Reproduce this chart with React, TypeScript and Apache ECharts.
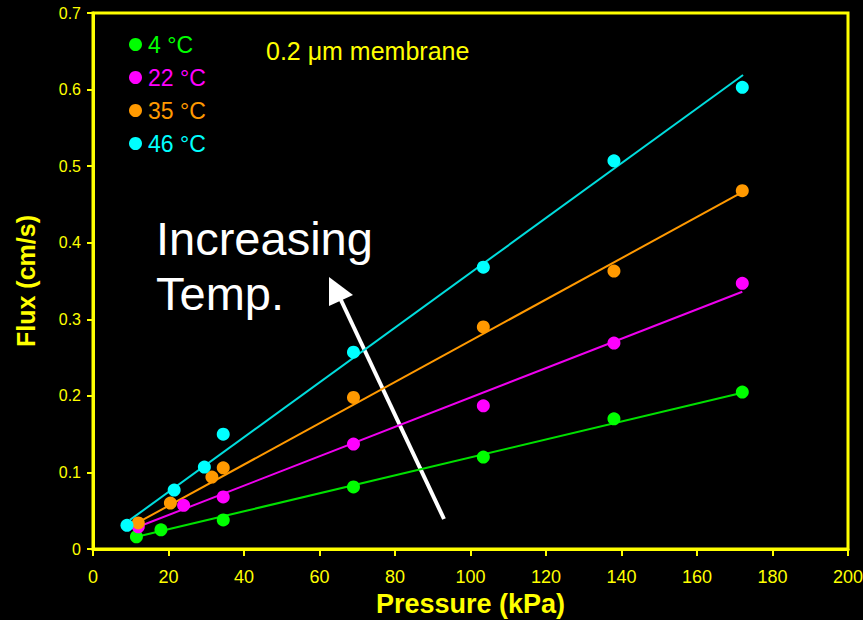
import React, { useEffect, useRef } from "react";
import * as echarts from "echarts";

const seriesNames = ["4 °C", "22 °C", "35 °C", "46 °C"];
const seriesColors = ["#00ff00", "#ff00ff", "#ff9900", "#00ffff"];
const lineColors = ["#00e000", "#ee00ee", "#ff9900", "#00dddd"];

const pts4: [number, number][] = [
  [11.5, 0.016], [18, 0.025], [34.5, 0.038], [69, 0.081], [103.4, 0.12], [138, 0.17], [172, 0.205],
];
const pts22: [number, number][] = [
  [12, 0.029], [24, 0.057], [34.5, 0.068], [69, 0.137], [103.4, 0.187], [138, 0.269], [172, 0.347],
];
const pts35: [number, number][] = [
  [12, 0.034], [20.5, 0.06], [31.5, 0.094], [34.5, 0.106], [69, 0.198], [103.4, 0.29], [138, 0.363], [172, 0.468],
];
const pts46: [number, number][] = [
  [9, 0.031], [21.5, 0.077], [29.5, 0.107], [34.5, 0.15], [69, 0.257], [103.4, 0.368], [138, 0.507], [172, 0.603],
];

const fit4: [number, number][] = [[11.6, 0.016], [172, 0.204]];
const fit22: [number, number][] = [[12, 0.029], [172, 0.336]];
const fit35: [number, number][] = [[11.7, 0.034], [172, 0.466]];
const fit46: [number, number][] = [[9.8, 0.038], [172.2, 0.619]];

const allPts = [pts4, pts22, pts35, pts46];
const allFits = [fit4, fit22, fit35, fit46];

const FONT = "Liberation Sans, Arial, sans-serif";
const YELLOW = "#ffff00";

export default function App() {
  const ref = useRef<HTMLDivElement>(null);
  useEffect(() => {
    if (!ref.current) return;
    const chart = echarts.init(ref.current, undefined, { renderer: "svg" });
    const series: any[] = [];
    allFits.forEach((f, i) => {
      series.push({
        type: "line",
        name: "fit" + i,
        data: f,
        symbol: "none",
        lineStyle: { color: lineColors[i], width: 2 },
        z: 2,
      });
    });
    allPts.forEach((p, i) => {
      series.push({
        type: "scatter",
        name: seriesNames[i],
        data: p,
        symbol: "circle",
        symbolSize: 13,
        itemStyle: { color: seriesColors[i], opacity: 1 },
        z: 3,
      });
    });
    chart.setOption({
      animation: false,
      backgroundColor: "#000000",
      grid: {
        left: 93,
        right: 15,
        top: 13,
        bottom: 71,
        show: true,
        borderColor: YELLOW,
        borderWidth: 3,
        backgroundColor: "transparent",
        outerBoundsMode: "none",
        containLabel: false,
      },
      legend: {
        orient: "vertical",
        left: 124,
        top: 28,
        itemGap: 10,
        itemWidth: 13,
        itemHeight: 13,
        icon: "circle",
        selectedMode: false,
        data: seriesNames.map((n, i) => ({
          name: n,
          itemStyle: { color: seriesColors[i], opacity: 1 },
          textStyle: { color: seriesColors[i], fontSize: 23, fontFamily: FONT, padding: [0, 0, 0, 1] },
        })),
      },
      xAxis: {
        type: "value",
        min: 0,
        max: 200,
        interval: 20,
        name: "Pressure (kPa)",
        nameLocation: "middle",
        nameGap: 38,
        nameTextStyle: { color: YELLOW, fontSize: 27, fontWeight: "bold", fontFamily: FONT },
        axisLine: { show: true, lineStyle: { color: YELLOW, width: 3 } },
        axisTick: { show: true, length: 7, inside: false, lineStyle: { color: YELLOW, width: 2 } },
        axisLabel: { color: YELLOW, fontSize: 18, margin: 19, fontFamily: FONT },
        splitLine: { show: false },
      },
      yAxis: {
        type: "value",
        min: 0,
        max: 0.7,
        interval: 0.1,
        name: "Flux (cm/s)",
        nameLocation: "middle",
        nameGap: 55,
        nameRotate: 90,
        nameTextStyle: { color: YELLOW, fontSize: 25, fontWeight: "bold", fontFamily: FONT },
        axisLine: { show: true, lineStyle: { color: YELLOW, width: 3 } },
        axisTick: { show: true, length: 6, inside: false, lineStyle: { color: YELLOW, width: 2 } },
        axisLabel: {
          color: YELLOW,
          fontSize: 16,
          margin: 12,
          fontFamily: FONT,
          formatter: (v: number) => (Math.round(v * 10) / 10).toString(),
        },
        splitLine: { show: false },
      },
      graphic: [
        {
          type: "text",
          left: 266,
          top: 38,
          style: { text: "0.2 μm membrane", fill: YELLOW, fontSize: 25, fontFamily: FONT },
        },
        {
          type: "text",
          left: 156,
          top: 211,
          style: {
            text: "Increasing\nTemp.",
            fill: "#ffffff",
            fontSize: 47,
            lineHeight: 55,
            fontFamily: FONT,
          },
        },
        {
          type: "line",
          shape: { x1: 444, y1: 519, x2: 340, y2: 298 },
          style: { stroke: "#ffffff", lineWidth: 4 },
        },
        {
          type: "polygon",
          shape: { points: [[329, 277], [329, 306], [353, 295]] },
          style: { fill: "#ffffff" },
        },
      ],
      series,
    });
    return () => chart.dispose();
  }, []);
  return (
    <div
      ref={ref}
      style={{ position: "fixed", left: 0, top: 0, width: 863, height: 620, background: "#000" }}
    />
  );
}
